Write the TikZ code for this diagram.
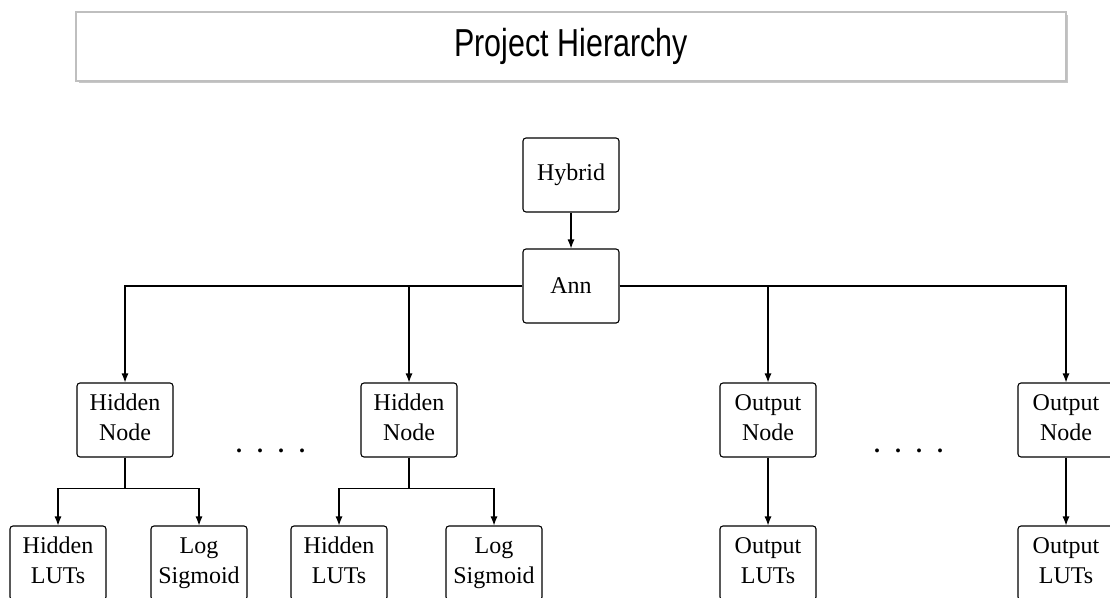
\documentclass[tikz,border=0pt]{standalone}
\usepackage{fontspec}
\usepackage{graphicx}
\setmainfont{Liberation Serif}
\newfontfamily\titlefont{Liberation Sans}
\usetikzlibrary{arrows.meta}
% equal descender room so two-line labels share baselines
\newcommand{\dsc}{\vphantom{g}}
\begin{document}
\begin{tikzpicture}[x=1pt,y=-1pt,
  box/.style={draw, line width=1.1pt, rounded corners=3pt, minimum width=96pt,
    minimum height=74pt, align=center, inner sep=0pt,
    font=\fontsize{24}{30}\selectfont},
  link/.style={line width=1.1pt},
  arr/.style={link, -{Latex[length=9pt,width=7pt]}},
  dotsrow/.style={font=\bfseries\fontsize{24}{28}\selectfont, inner sep=0pt}
]
\useasboundingbox (0,0) rectangle (1110,597);
\clip (0,0) rectangle (1110,597);

% title banner with a soft shadow
\fill[black!22] (79,15) rectangle (1068,83);
\node[draw=black!25, line width=1.2pt, fill=white, minimum width=990pt,
  minimum height=69pt, inner sep=0pt] (title) at (571,46.5)
  {\titlefont\fontsize{39}{44}\selectfont\scalebox{0.78}[1]{Project Hierarchy}};

% tree nodes
\node[box] (hyb) at (571,175) {Hybrid};
\node[box] (ann) at (571,286) {Ann};

\node[box] (hn1) at (125,420) {Hidden\\Node\dsc};
\node[box] (hn2) at (409,420) {Hidden\\Node\dsc};
\node[box] (on1) at (768,420) {Output\\Node\dsc};
\node[box] (on2) at (1066,420) {Output\\Node\dsc};

\node[box] (hl1) at (58,563)  {Hidden\\LUTs\dsc};
\node[box] (ls1) at (199,563) {Log\\Sigmoid\dsc};
\node[box] (hl2) at (339,563) {Hidden\\LUTs\dsc};
\node[box] (ls2) at (494,563) {Log\\Sigmoid\dsc};
\node[box] (ol1) at (768,563) {Output\\LUTs\dsc};
\node[box] (ol2) at (1066,563) {Output\\LUTs\dsc};

\node[dotsrow] (dotsA) at (270.5,451) {.\hspace{15pt}.\hspace{15pt}.\hspace{15pt}.};
\node[dotsrow] (dotsB) at (908.5,451) {.\hspace{15pt}.\hspace{15pt}.\hspace{15pt}.};

% connectors
\draw[arr] (hyb) -- (ann);
\draw[arr] (ann.west) -| (hn1.north);
\draw[arr] (ann.west) -| (hn2.north);
\draw[arr] (ann.east) -| (on1.north);
\draw[arr] (ann.east) -| (on2.north);

\coordinate (b1) at ([yshift=-31pt]hn1.south);
\coordinate (b2) at ([yshift=-31pt]hn2.south);
\draw[link] (hn1.south) -- (b1);
\draw[arr] (b1) -| (hl1.north);
\draw[arr] (b1) -| (ls1.north);
\draw[link] (hn2.south) -- (b2);
\draw[arr] (b2) -| (hl2.north);
\draw[arr] (b2) -| (ls2.north);

\draw[arr] (on1) -- (ol1);
\draw[arr] (on2) -- (ol2);
\end{tikzpicture}
\end{document}
